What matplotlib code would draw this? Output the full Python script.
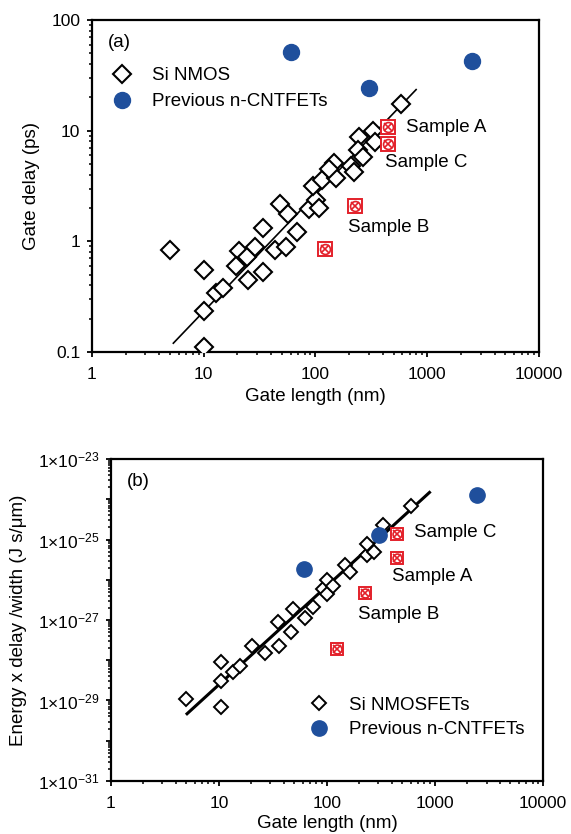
import matplotlib
matplotlib.use('Agg')
import matplotlib.pyplot as plt
import numpy as np
from matplotlib.ticker import LogLocator, FuncFormatter, NullFormatter
from matplotlib.lines import Line2D

plt.rcParams['font.family'] = ['Liberation Sans', 'DejaVu Sans']
plt.rcParams['mathtext.fontset'] = 'custom'
plt.rcParams['mathtext.rm'] = 'Liberation Sans'
plt.rcParams['mathtext.it'] = 'Liberation Sans:italic'

BLUE = '#1f4f9c'
RED = '#e3202a'
FS = 13.5      # label / annotation text
TFS = 12.5     # tick labels

# ---- panel (a): gate delay ----
si_len_a = [5, 10, 10, 10, 12.9, 15, 20.7, 19.3, 24.6, 25, 29, 34, 34, 43.5, 48, 57, 55, 69,
            87, 102, 107, 95, 115, 147, 152, 133, 210, 220, 245, 240, 265, 325, 340, 580]
si_delay_a = [0.84, 0.55, 0.235, 0.11, 0.34, 0.38, 0.82, 0.6, 0.72, 0.45, 0.89, 1.32, 0.53, 0.83,
              2.16, 1.78, 0.88, 1.21, 1.95, 2.35, 2.0, 3.14, 3.55, 5.1, 3.75, 4.5, 4.8, 4.2,
              8.8, 6.7, 5.8, 10.0, 7.9, 17.3]
cnt_len_a = [60, 302, 2510]
cnt_delay_a = [51.5, 24.3, 43]
smp_len_a = [442, 442, 225, 121]
smp_delay_a = [10.7, 7.5, 2.1, 0.85]
fit_len_a = [5.35, 795]
fit_delay_a = [0.12, 23.5]

# ---- panel (b): energy x delay / width ----
si_len_b = [5.0, 10.4, 10.4, 10.4, 13.5, 15.6, 20.3, 26.6, 36, 35.4, 49, 47, 63, 74, 93, 100,
            100, 115, 147, 162, 234, 236, 275, 332, 605]
si_edp_b = [1.1e-29, 7e-30, 9e-29, 3e-29, 5.2e-29, 7e-29, 2.3e-28, 1.5e-28, 2.3e-28, 9e-28,
            1.9e-27, 5e-28, 1.1e-27, 2.1e-27, 6e-27, 1e-26, 4.5e-27, 7e-27, 2.3e-26, 1.6e-26,
            4.1e-26, 7.9e-26, 5e-26, 2.3e-25, 6.7e-25]
cnt_len_b = [62, 305, 2450]
cnt_edp_b = [1.9e-26, 1.3e-25, 1.26e-24]
smp_len_b = [448, 448, 224, 123]
smp_edp_b = [1.4e-25, 3.4e-26, 4.6e-27, 1.9e-28]
fit_len_b = [5.08, 890]
fit_edp_b = [10**-29.33, 10**-23.83]

x_ticks = [1, 10, 100, 1000, 10000]


def style_axis(ax):
    for s in ax.spines.values():
        s.set_linewidth(1.6)
    ax.tick_params(which='major', direction='out', length=3.5, width=1.3, labelsize=TFS, pad=5,
                   top=False, right=False)
    ax.tick_params(axis='x', which='major', pad=7)
    ax.tick_params(which='minor', direction='out', length=2.2, width=1.1, top=False, right=False)
    ax.set_xscale('log')
    ax.set_yscale('log')
    ax.set_xlim(1, 10000)
    ax.set_xticks(x_ticks)
    ax.xaxis.set_major_formatter(FuncFormatter(lambda v, p: f'{v:g}'))
    ax.xaxis.set_minor_locator(LogLocator(base=10, subs=np.arange(2, 10), numticks=20))
    ax.xaxis.set_minor_formatter(NullFormatter())
    ax.yaxis.set_minor_locator(LogLocator(base=10, subs=np.arange(2, 10), numticks=30))
    ax.yaxis.set_minor_formatter(NullFormatter())


def draw_samples(ax, xs, ys, ms):
    ax.plot(xs, ys, ls='none', marker='s', ms=ms, mfc='white', mec=RED, mew=1.4, zorder=4)
    ax.plot(xs, ys, ls='none', marker='o', ms=ms * 0.75, mfc='none', mec=RED, mew=1.2, zorder=5)
    ax.plot(xs, ys, ls='none', marker='x', ms=ms * 0.6, mec=RED, mew=1.2, zorder=5)


fig = plt.figure(figsize=(5.71, 8.34), dpi=100)

# ---------------- (a) ----------------
ax1 = fig.add_axes([0.161, 0.578, 0.783, 0.398])
style_axis(ax1)
ax1.set_ylim(0.1, 100)
ax1.yaxis.set_major_formatter(FuncFormatter(lambda v, p: f'{v:g}'))

ax1.plot(fit_len_a, fit_delay_a, color='black', lw=1.2, zorder=2)
ax1.plot(si_len_a, si_delay_a, ls='none', marker='D', ms=8.8, mfc='white', mec='black',
         mew=1.5, zorder=3)
ax1.plot(cnt_len_a, cnt_delay_a, ls='none', marker='o', ms=11.5, color=BLUE, zorder=3)
draw_samples(ax1, smp_len_a, smp_delay_a, 9.5)

ax1.text(1.4, 62, '(a)', fontsize=FS, va='center')
ax1.text(645, 10.7, 'Sample A', fontsize=FS, va='center')
ax1.text(418, 5.2, 'Sample C', fontsize=FS, va='center')
ax1.text(195, 1.33, 'Sample B', fontsize=FS, va='center')

handles_a = [Line2D([], [], ls='none', marker='D', ms=8.8, mfc='white', mec='black', mew=1.5),
             Line2D([], [], ls='none', marker='o', ms=11.5, color=BLUE)]
ax1.legend(handles_a, ['Si NMOS', 'Previous n-CNTFETs'], loc='upper left',
           bbox_to_anchor=(0.046, 0.858), frameon=False, fontsize=FS, handlelength=1.0,
           handletextpad=1.1, labelspacing=0.48, borderpad=0, borderaxespad=0)

ax1.set_xlabel('Gate length (nm)', fontsize=FS)
ax1.set_ylabel('Gate delay (ps)', fontsize=FS)
ax1.xaxis.set_label_coords(0.5, -0.11)
ax1.yaxis.set_label_coords(-0.116, 0.5)

# ---------------- (b) ----------------
ax2 = fig.add_axes([0.194, 0.0636, 0.757, 0.386])
style_axis(ax2)
ax2.set_ylim(1e-31, 1e-23)
ax2.yaxis.set_major_locator(LogLocator(base=10, numticks=20))


def sci_fmt(v, p):
    e = int(round(np.log10(v)))
    if e % 2 == 0:
        return ''
    return r'$1{\times}10^{%d}$' % e


ax2.yaxis.set_major_formatter(FuncFormatter(sci_fmt))

ax2.plot(fit_len_b, fit_edp_b, color='black', lw=2.2, zorder=2)
ax2.plot(si_len_b, si_edp_b, ls='none', marker='D', ms=7.6, mfc='white', mec='black',
         mew=1.4, zorder=3)
ax2.plot(cnt_len_b, cnt_edp_b, ls='none', marker='o', ms=11, color=BLUE, zorder=4)
draw_samples(ax2, smp_len_b, smp_edp_b, 8.5)

ax2.text(1.4, 10**-23.56, '(b)', fontsize=FS, va='center')
ax2.text(645, 10**-24.83, 'Sample C', fontsize=FS, va='center')
ax2.text(400, 10**-25.93, 'Sample A', fontsize=FS, va='center')
ax2.text(193, 10**-26.87, 'Sample B', fontsize=FS, va='center')

handles_b = [Line2D([], [], ls='none', marker='D', ms=7.6, mfc='white', mec='black', mew=1.4),
             Line2D([], [], ls='none', marker='o', ms=11, color=BLUE)]
ax2.legend(handles_b, ['Si NMOSFETs', 'Previous n-CNTFETs'], loc='upper left',
           bbox_to_anchor=(0.46, 0.261), frameon=False, fontsize=FS, handlelength=1.0,
           handletextpad=1.1, labelspacing=0.37, borderpad=0, borderaxespad=0)

ax2.set_xlabel('Gate length (nm)', fontsize=FS)
ax2.set_ylabel('Energy x delay /width (J s/\u03bcm)', fontsize=FS)
ax2.xaxis.set_label_coords(0.5, -0.107)
ax2.yaxis.set_label_coords(-0.194, 0.5)

fig.savefig('out.png', dpi=100)
